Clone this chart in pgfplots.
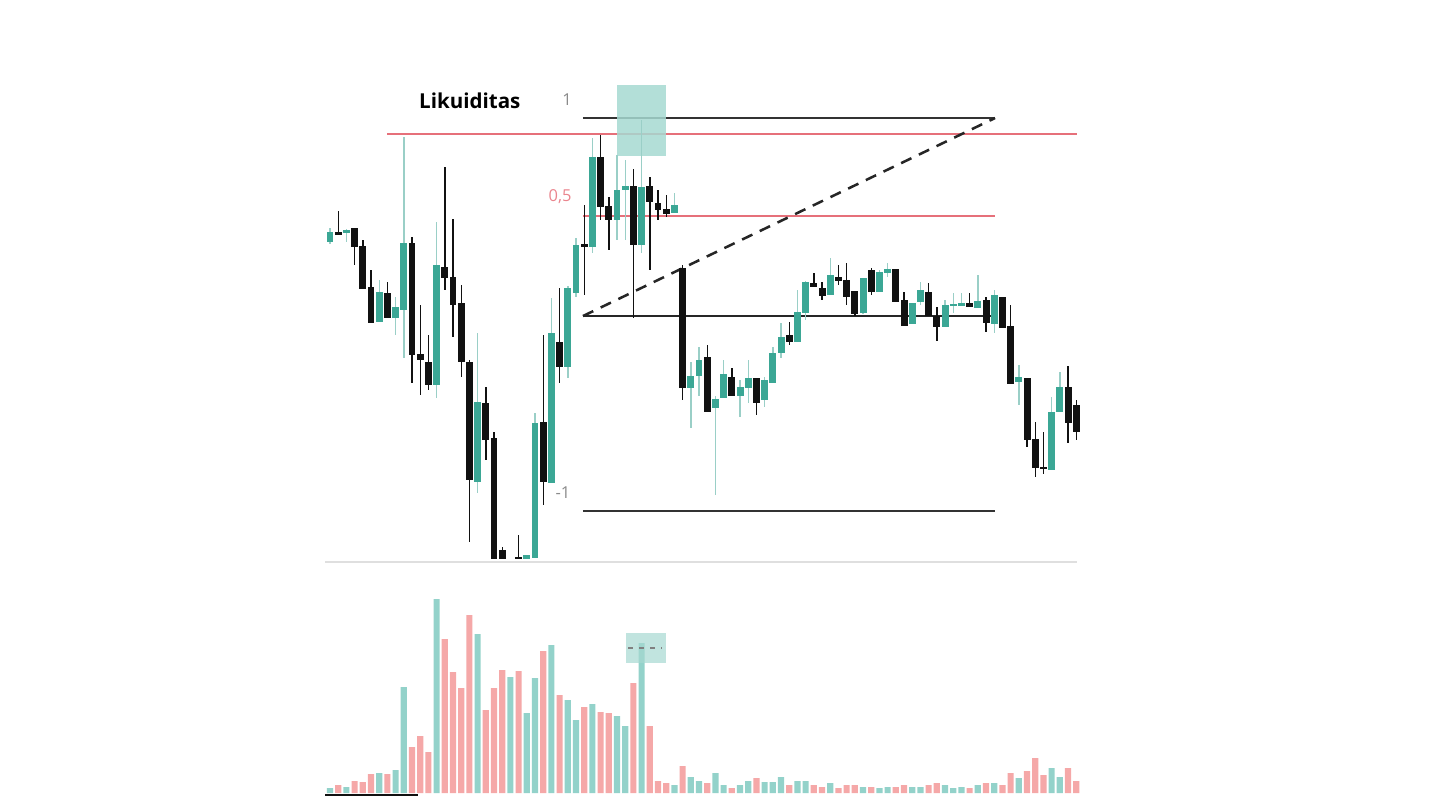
\documentclass[border=0pt]{standalone}
\usepackage{pgfplots}
\pgfplotsset{compat=1.18}
\usepackage{pgfplotstable}
\usepackage{fontspec}
\setmainfont{Open Sans}

\definecolor{bull}{HTML}{3BA795}
\definecolor{bullwick}{HTML}{9ACFC7}
\definecolor{bear}{HTML}{111111}
\definecolor{volup}{HTML}{93D2CA}
\definecolor{voldn}{HTML}{F5A8A8}
\definecolor{liq}{HTML}{E6707A}
\definecolor{boxc}{HTML}{A6D9D1}
\definecolor{lbl}{HTML}{8A8A8A}

% candles: bar number, then rows (top of picture = 0) of body top/bottom, wick top/bottom
\pgfplotstableread{
x btop bbot wtop wbot
0  232 242 228 244
2  230 233 229 242
6  292 322 280 322
8  307 318 297 335
9  243 310 137 358
13 265 385 222 398
18 402 482 333 493
24 555 559 555 559
25 423 558 413 558
27 333 483 298 483
29 288 367 286 378
30 245 293 238 297
32 157 247 138 253
35 190 220 155 240
36 186 190 160 240
38 187 245 120 253
42 205 213 193 213
44 376 388 362 428
45 360 376 347 396
47 399 408 396 495
48 374 398 360 398
50 387 396 380 417
51 378 388 360 403
53 380 400 377 407
54 353 383 347 383
55 337 353 323 358
57 312 342 290 342
58 282 313 281 320
61 275 295 258 295
65 278 313 278 314
67 272 292 270 292
68 269 273 263 277
71 303 324 303 324
72 290 302 282 305
75 305 327 300 327
76 304 306 293 313
77 303 306 293 306
79 301 308 275 308
81 295 324 290 333
84 377 382 365 405
88 412 470 397 470
89 387 412 372 412
}\bulltab

\pgfplotstableread{
x btop bbot wtop wbot
1  232 235 211 235
3  228 247 228 265
4  246 289 240 289
5  287 323 270 323
7  293 318 282 318
10 243 355 237 383
11 354 360 305 395
12 362 385 335 390
14 267 278 167 290
15 277 305 219 337
16 303 362 285 377
17 362 480 360 542
19 403 440 387 460
20 438 559 432 559
21 550 559 547 559
23 557 559 535 559
26 422 482 335 505
28 342 367 288 383
31 244 247 205 295
33 157 207 135 220
34 206 220 197 250
37 186 245 169 318
39 186 202 177 270
40 203 210 190 220
41 209 214 195 217
43 268 388 265 400
46 357 412 345 412
49 377 396 368 396
52 378 403 378 415
56 335 342 322 345
59 283 287 273 287
60 288 296 282 300
62 277 281 265 285
63 280 297 263 305
64 291 314 291 316
66 270 292 268 295
69 269 302 269 302
70 300 326 292 326
73 292 316 283 316
74 316 327 307 341
78 303 307 293 307
80 300 323 297 332
82 297 328 297 328
83 326 384 305 384
85 378 440 378 447
86 439 468 422 477
87 467 469 432 474
90 387 423 366 443
91 405 432 400 440
}\beartab

% volume of each bar
\pgfplotstableread{
x h
0 5
2 6
6 20
8 23
9 106
13 194
18 159
22 116
24 80
25 115
27 148
29 93
30 73
32 89
35 77
36 67
38 150
42 8
44 16
45 12
47 20
48 8
50 8
51 12
53 11
54 11
55 16
57 12
58 12
61 10
65 6
67 5
68 6
71 6
72 6
75 8
76 5
77 6
79 8
81 10
84 15
88 25
89 16
}\volupt

\pgfplotstableread{
x h
1 8
3 12
4 11
5 19
7 19
10 46
11 57
12 41
14 154
15 121
16 105
17 178
19 83
20 105
21 123
23 122
26 142
28 98
31 86
33 81
34 80
37 110
39 67
40 12
41 10
43 27
46 10
49 5
52 15
56 8
59 8
60 6
62 5
63 8
64 8
66 6
69 6
70 8
73 8
74 10
78 5
80 10
82 8
83 20
85 22
86 35
87 18
90 25
91 12
}\voldnt

\pgfplotsset{
  candle/.style 2 args={draw=none, mark=none,
    error bars/.cd, y dir=both, y explicit, error mark=none,
    error bar style={draw=#1, line width=#2}},
}

\begin{document}
\begin{tikzpicture}
\path[use as bounding box] (0,0) rectangle (16cm,9cm);

% volume panel
\begin{axis}[
    at={(0,0)}, anchor=south west,
    width=16cm, height=9cm, scale only axis, hide axis,
    xmin=-40.2439, xmax=135.3659,
    ymin=-17, ymax=793]
  \addplot[ybar, bar width=1.95pt, bar shift=0pt, fill=volup, draw=none]
    table[x=x, y=h] {\volupt};
  \addplot[ybar, bar width=1.95pt, bar shift=0pt, fill=voldn, draw=none]
    table[x=x, y=h] {\voldnt};
\end{axis}

% price panel
\begin{axis}[
    at={(0,0)}, anchor=south west,
    width=16cm, height=9cm, scale only axis, hide axis,
    xmin=-40.2439, xmax=135.3659,
    ymin=0, ymax=810, y dir=reverse]

  % levels
  \draw[gray!25, line width=0.35pt] (axis cs:-0.61,562) -- (axis cs:91.1,562);
  \draw[bear, line width=0.7pt] (axis cs:-0.61,795) -- (axis cs:10.73,795);
  \draw[liq, line width=0.9pt] (axis cs:6.95,134) -- (axis cs:91.1,134);
  \draw[liq, line width=0.9pt] (axis cs:30.85,216) -- (axis cs:81.1,216);
  \draw[black!80, line width=0.9pt] (axis cs:30.85,118) -- (axis cs:81.1,118);
  \draw[black!85, line width=0.45pt] (axis cs:30.85,316) -- (axis cs:81.1,316);
  \draw[black!80, line width=0.9pt] (axis cs:30.85,511) -- (axis cs:81.1,511);
  \draw[black!85, line width=0.8pt, dash pattern=on 3.6pt off 2.6pt]
    (axis cs:30.85,316) -- (axis cs:81.1,118);

  \fill[boxc, opacity=0.85] (axis cs:35.0,85) rectangle (axis cs:40.98,156);

  \node[font=\bfseries\fontsize{6.5}{7}\selectfont] at (axis cs:17.05,101) {Likuiditas};
  \node[lbl, font=\fontsize{5.2}{6}\selectfont] at (axis cs:28.9,100) {1};
  \node[liq!85, font=\fontsize{5.2}{6}\selectfont] at (axis cs:28.05,197) {0,5};
  \node[lbl, font=\fontsize{5.2}{6}\selectfont] at (axis cs:28.4,493) {-1};

  % wicks
  \addplot[candle={bullwick}{0.45pt}]
    table[x=x, y expr={(\thisrow{wtop}+\thisrow{wbot})/2},
          y error expr={(\thisrow{wbot}-\thisrow{wtop})/2}] {\bulltab};
  \addplot[candle={bear}{0.45pt}]
    table[x=x, y expr={(\thisrow{wtop}+\thisrow{wbot})/2},
          y error expr={(\thisrow{wbot}-\thisrow{wtop})/2}] {\beartab};
  % bodies
  \addplot[candle={bull}{2.2pt}]
    table[x=x, y expr={(\thisrow{btop}+\thisrow{bbot})/2},
          y error expr={(\thisrow{bbot}-\thisrow{btop})/2}] {\bulltab};
  \addplot[candle={bear}{2.2pt}]
    table[x=x, y expr={(\thisrow{btop}+\thisrow{bbot})/2},
          y error expr={(\thisrow{bbot}-\thisrow{btop})/2}] {\beartab};

  % highlight on the volume spike
  \fill[boxc, opacity=0.7] (axis cs:36.1,633) rectangle (axis cs:40.98,663);
  \draw[gray, line width=0.4pt, dash pattern=on 1.5pt off 2pt]
    (axis cs:36.34,648) -- (axis cs:40.49,648);
\end{axis}
\end{tikzpicture}
\end{document}
